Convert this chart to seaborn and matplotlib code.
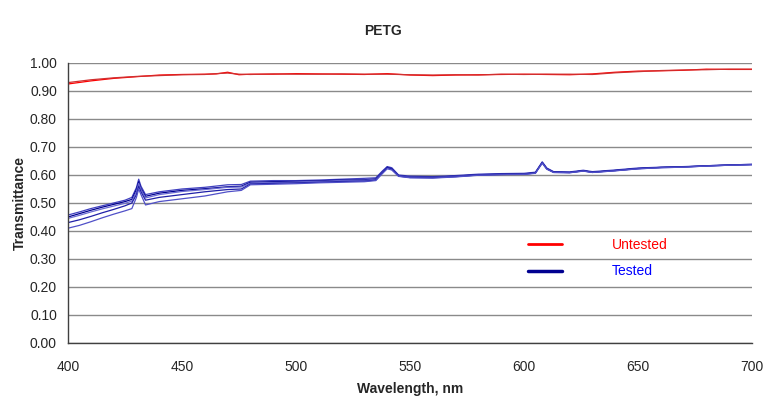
import numpy as np
import pandas as pd
import matplotlib
matplotlib.use("Agg")
import matplotlib.pyplot as plt
import seaborn as sns
from matplotlib.lines import Line2D

# === DATA ===
wl_red = [400, 410, 420, 430, 440, 450, 460, 465, 470, 475, 480, 490, 500, 510, 520,
          530, 540, 550, 560, 570, 580, 590, 600, 610, 620, 630, 640, 650, 660, 670,
          680, 690, 700]
untested_1 = [0.925, 0.936, 0.945, 0.951, 0.957, 0.959, 0.960, 0.961, 0.967, 0.958, 0.960,
              0.960, 0.962, 0.961, 0.960, 0.959, 0.962, 0.957, 0.955, 0.957, 0.958, 0.959,
              0.960, 0.959, 0.958, 0.961, 0.967, 0.971, 0.972, 0.974, 0.978, 0.977, 0.977]
untested_2 = [0.930, 0.940, 0.947, 0.952, 0.955, 0.958, 0.959, 0.962, 0.964, 0.960, 0.959,
              0.961, 0.960, 0.960, 0.961, 0.960, 0.960, 0.958, 0.957, 0.958, 0.957, 0.960,
              0.959, 0.960, 0.960, 0.959, 0.965, 0.969, 0.973, 0.975, 0.976, 0.978, 0.978]

wl_blue = [400, 405, 410, 415, 420, 425, 428, 430, 431, 432, 434, 440, 450, 460, 470,
           476, 480, 490, 500, 510, 520, 530, 535, 538, 540, 542, 545, 550, 560, 570,
           580, 590, 600, 605, 608, 610, 613, 620, 626, 630, 640, 650, 660, 670, 680,
           690, 700]
tested_1 = [0.457, 0.468, 0.480, 0.490, 0.500, 0.510, 0.520, 0.555, 0.585, 0.560, 0.530,
            0.540, 0.550, 0.556, 0.565, 0.566, 0.578, 0.580, 0.580, 0.582, 0.585, 0.588,
            0.590, 0.615, 0.630, 0.626, 0.600, 0.596, 0.594, 0.598, 0.603, 0.605, 0.606,
            0.610, 0.647, 0.625, 0.612, 0.611, 0.617, 0.612, 0.618, 0.625, 0.628, 0.630,
            0.633, 0.636, 0.638]
tested_2 = [0.450, 0.462, 0.474, 0.485, 0.495, 0.505, 0.513, 0.548, 0.576, 0.552, 0.524,
            0.535, 0.545, 0.551, 0.558, 0.560, 0.574, 0.576, 0.577, 0.579, 0.582, 0.583,
            0.586, 0.612, 0.627, 0.622, 0.598, 0.593, 0.592, 0.596, 0.601, 0.603, 0.604,
            0.608, 0.644, 0.622, 0.610, 0.609, 0.615, 0.610, 0.616, 0.623, 0.627, 0.629,
            0.632, 0.635, 0.637]
tested_3 = [0.445, 0.456, 0.468, 0.479, 0.489, 0.499, 0.507, 0.540, 0.570, 0.548, 0.518,
            0.530, 0.541, 0.548, 0.556, 0.557, 0.571, 0.573, 0.575, 0.577, 0.580, 0.581,
            0.584, 0.610, 0.626, 0.620, 0.597, 0.592, 0.591, 0.595, 0.600, 0.602, 0.603,
            0.607, 0.642, 0.621, 0.609, 0.608, 0.614, 0.609, 0.615, 0.622, 0.626, 0.628,
            0.632, 0.635, 0.637]
tested_4 = [0.430, 0.440, 0.452, 0.465, 0.477, 0.490, 0.500, 0.530, 0.560, 0.540, 0.510,
            0.520, 0.530, 0.540, 0.548, 0.550, 0.568, 0.570, 0.572, 0.574, 0.577, 0.578,
            0.582, 0.608, 0.628, 0.621, 0.596, 0.591, 0.590, 0.594, 0.600, 0.602, 0.603,
            0.607, 0.645, 0.623, 0.610, 0.609, 0.615, 0.610, 0.616, 0.623, 0.627, 0.629,
            0.633, 0.636, 0.638]
tested_5 = [0.410, 0.420, 0.433, 0.447, 0.460, 0.472, 0.480, 0.520, 0.550, 0.530, 0.493,
            0.505, 0.515, 0.525, 0.540, 0.545, 0.565, 0.567, 0.569, 0.572, 0.574, 0.576,
            0.580, 0.606, 0.622, 0.618, 0.595, 0.590, 0.589, 0.593, 0.599, 0.601, 0.602,
            0.606, 0.643, 0.621, 0.609, 0.608, 0.614, 0.609, 0.615, 0.622, 0.626, 0.628,
            0.632, 0.635, 0.637]

red_series = {"U1": untested_1, "U2": untested_2}
blue_series = {"T1": tested_1, "T2": tested_2, "T3": tested_3, "T4": tested_4, "T5": tested_5}

palette = {"U1": "#ff0000", "U2": "#d03030",
           "T1": "#4040c0", "T2": "#000090", "T3": "#6a6ad2", "T4": "#2020a8", "T5": "#5050c8"}

rows = []
for name, vals in red_series.items():
    rows += [(name, w, v) for w, v in zip(wl_red, vals)]
for name, vals in blue_series.items():
    rows += [(name, w, v) for w, v in zip(wl_blue, vals)]
df = pd.DataFrame(rows, columns=["sample", "wavelength", "transmittance"])

# === PLOT ===
sns.set_style("white")
plt.rcParams["font.family"] = ["Liberation Sans", "DejaVu Sans"]

fig = plt.figure(figsize=(7.66, 4.03), dpi=100)
ax = fig.add_axes([0.0888, 0.1489, 0.8929, 0.6948])

sns.lineplot(data=df, x="wavelength", y="transmittance", hue="sample",
             palette=palette, legend=False, linewidth=0.9, ax=ax,
             estimator=None, sort=False)

ax.set_xlim(400, 700)
ax.set_ylim(0, 1.0)
ax.set_xticks(range(400, 701, 50))
ax.set_yticks(np.arange(0, 1.01, 0.1))
ax.set_yticklabels([f"{v:.2f}" for v in np.arange(0, 1.01, 0.1)])
ax.yaxis.grid(True, color="#8a8a8a", linewidth=1.0)
ax.set_axisbelow(True)

for side in ["top", "right"]:
    ax.spines[side].set_visible(False)
for side in ["left", "bottom"]:
    ax.spines[side].set_color("#404040")
    ax.spines[side].set_linewidth(1.0)
ax.tick_params(axis="both", direction="out", length=4, width=1, color="#404040",
               labelsize=10, pad=4)
ax.tick_params(axis="x", pad=8)

ax.set_xlabel("Wavelength, nm", fontsize=10, fontweight="bold", labelpad=6)
ax.set_ylabel("Transmittance", fontsize=10, fontweight="bold", labelpad=2)
fig.suptitle("PETG", fontsize=10, fontweight="bold", y=0.94)

handles = [Line2D([], [], color="#ff0000", linewidth=2),
           Line2D([], [], color="#000090", linewidth=2.5)]
leg = ax.legend(handles, ["Untested", "Tested"], loc="upper left",
                bbox_to_anchor=(0.6725, 0.375), frameon=False, fontsize=10,
                handlelength=2.45, handletextpad=3.6, labelspacing=0.9,
                borderpad=0, borderaxespad=0)
for txt, col in zip(leg.get_texts(), ["#ff0000", "#0000ff"]):
    txt.set_color(col)

fig.savefig("out.png", dpi=100)
